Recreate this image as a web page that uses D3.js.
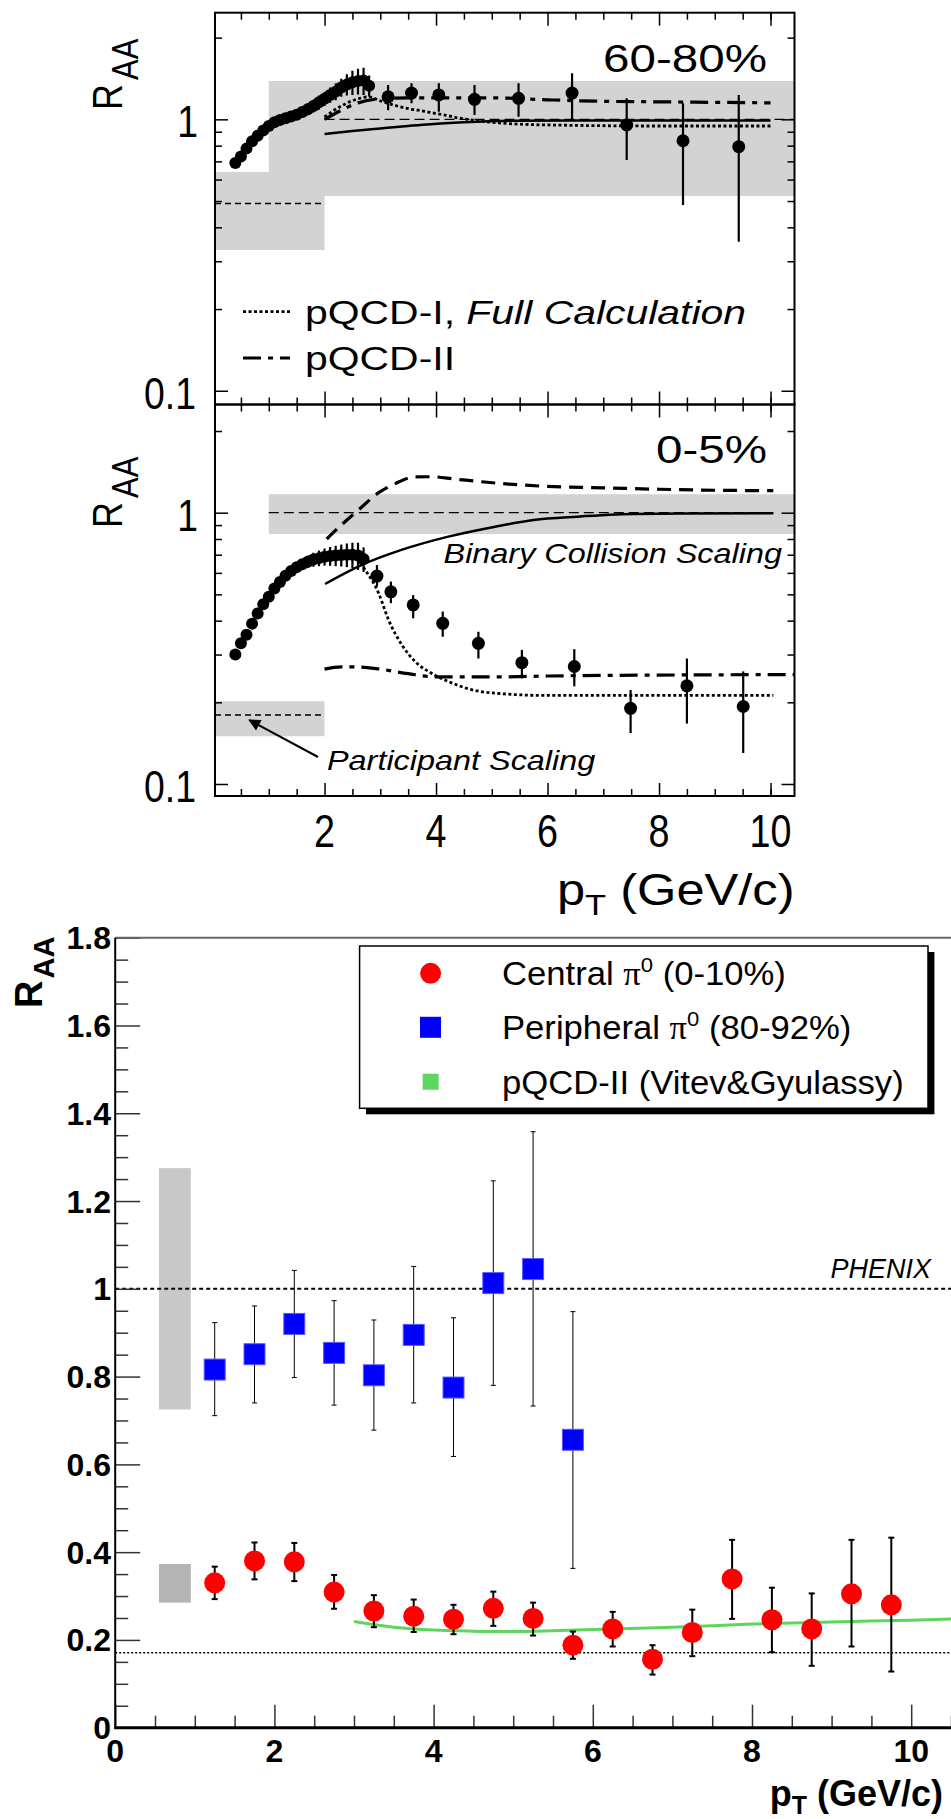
<!DOCTYPE html>
<html>
<head>
<meta charset="utf-8">
<script src="https://cdn.jsdelivr.net/npm/d3@7"></script>
<style>
    html, body { margin: 0; padding: 0; background: #fff; }
    svg { display: block; font-family: "Liberation Sans", Arial, sans-serif; }
</style>
</head>
<body>
<svg id="chart" width="951" height="1819"></svg>
<script>
"use strict";

// ---------- upper panel: 60-80% ----------
var p60DenseX = [0.4, 0.5, 0.6, 0.7, 0.8, 0.9, 1.0, 1.1, 1.2, 1.3, 1.4, 1.5, 1.6, 1.7, 1.8, 1.9, 2.0, 2.1, 2.2, 2.3, 2.4, 2.5, 2.6, 2.7, 2.8];
var p60DenseY = [0.69, 0.73, 0.78, 0.83, 0.87, 0.91, 0.945, 0.975, 0.995, 1.01, 1.025, 1.04, 1.065, 1.09, 1.12, 1.155, 1.19, 1.23, 1.265, 1.31, 1.345, 1.37, 1.385, 1.39, 1.33];
var p60DenseErr = [0.015, 0.015, 0.015, 0.015, 0.02, 0.02, 0.02, 0.025, 0.03, 0.035, 0.04, 0.045, 0.05, 0.055, 0.06, 0.07, 0.07, 0.08, 0.09, 0.1, 0.12, 0.14, 0.15, 0.16, 0.12];
var p60X = [3.14, 3.56, 4.05, 4.69, 5.48, 6.44, 7.42, 8.43, 9.43];
var p60Y = [1.21, 1.25, 1.23, 1.185, 1.195, 1.25, 0.953, 0.834, 0.793];
var p60Lo = [1.08, 1.145, 1.066, 1.037, 1.022, 0.994, 0.708, 0.483, 0.354];
var p60Hi = [1.338, 1.357, 1.357, 1.338, 1.357, 1.477, 1.195, 1.145, 1.229];

var p60SolidX = [2.0, 2.5, 3.0, 3.5, 3.9, 4.5, 5.4, 6.5, 8.0, 10.0];
var p60SolidY = [0.883, 0.905, 0.925, 0.945, 0.96, 0.975, 0.988, 0.99, 0.99, 0.99];
var p60DottedX = [2.0, 2.3, 2.6, 2.8, 3.0, 3.35, 3.56, 3.77, 3.98, 4.16, 4.34, 4.52, 5.0, 5.5, 6.5, 8.0, 10.0];
var p60DottedY = [1.02, 1.12, 1.19, 1.21, 1.17, 1.113, 1.089, 1.073, 1.052, 1.037, 1.017, 1.003, 0.975, 0.96, 0.95, 0.945, 0.945];
var p60DashDotX = [2.0, 2.3, 2.6, 3.0, 3.5, 4.0, 5.0, 6.0, 7.0, 8.0, 9.0, 10.0];
var p60DashDotY = [1.0, 1.08, 1.15, 1.19, 1.2, 1.2, 1.2, 1.18, 1.165, 1.16, 1.155, 1.15];

// ---------- middle panel: 0-5% ----------
var p05DenseX = [0.4, 0.5, 0.6, 0.7, 0.8, 0.9, 1.0, 1.1, 1.2, 1.3, 1.4, 1.5, 1.6, 1.7, 1.8, 1.9, 2.0, 2.1, 2.2, 2.3, 2.4, 2.5, 2.6, 2.7];
var p05DenseY = [0.30, 0.33, 0.355, 0.39, 0.425, 0.46, 0.49, 0.525, 0.555, 0.585, 0.61, 0.63, 0.645, 0.66, 0.672, 0.68, 0.688, 0.692, 0.695, 0.698, 0.70, 0.70, 0.695, 0.675];
var p05DenseErr = [0.01, 0.01, 0.01, 0.012, 0.012, 0.015, 0.015, 0.018, 0.02, 0.02, 0.022, 0.025, 0.03, 0.035, 0.04, 0.045, 0.05, 0.055, 0.06, 0.065, 0.07, 0.075, 0.08, 0.07];
var p05X = [2.94, 3.19, 3.59, 4.12, 4.76, 5.54, 6.48, 7.49, 8.5, 9.51];
var p05Y = [0.584, 0.511, 0.457, 0.391, 0.33, 0.28, 0.271, 0.19, 0.23, 0.193];
var p05Lo = [0.534, 0.464, 0.408, 0.349, 0.29, 0.245, 0.229, 0.154, 0.167, 0.13];
var p05Hi = [0.641, 0.557, 0.497, 0.432, 0.364, 0.312, 0.314, 0.222, 0.29, 0.26];

var p05SolidX = [2.01, 2.67, 3.38, 4.22, 5.06, 5.75, 6.53, 7.54, 8.5, 10.05];
var p05SolidY = [0.546, 0.642, 0.729, 0.816, 0.888, 0.94, 0.967, 0.989, 0.993, 0.995];
var p05DashedX = [2.04, 2.3, 2.6, 2.97, 3.27, 3.63, 3.92, 4.34, 4.82, 5.3, 6.0, 7.0, 8.0, 9.0, 10.05];
var p05DashedY = [0.80, 0.9, 1.02, 1.185, 1.28, 1.355, 1.357, 1.33, 1.3, 1.275, 1.25, 1.235, 1.22, 1.21, 1.205];
var p05DottedX = [2.0, 2.4, 2.6, 2.73, 2.97, 3.15, 3.39, 3.63, 3.92, 4.3, 4.66, 5.2, 5.97, 7.0, 8.0, 10.05];
var p05DottedY = [0.69, 0.70, 0.67, 0.615, 0.505, 0.402, 0.325, 0.282, 0.256, 0.235, 0.222, 0.215, 0.212, 0.212, 0.212, 0.212];
var p05DashDotX = [2.0, 2.3, 2.6, 3.0, 3.5, 4.0, 5.0, 6.0, 8.0, 10.43];
var p05DashDotY = [0.265, 0.27, 0.27, 0.265, 0.255, 0.248, 0.248, 0.25, 0.252, 0.253];

var topTicksMajorY = [0.1, 1];
var topTicksMinorY = [0.2, 0.3, 0.4, 0.5, 0.6, 0.7, 0.8, 0.9, 2];
var topTicksMajorX = [2, 4, 6, 8, 10];
var topTicksMinorX = [0.5, 1, 1.5, 2.5, 3, 3.5, 4.5, 5, 5.5, 6.5, 7, 7.5, 8.5, 9, 9.5, 10];

// ---------- lower panel: PHENIX ----------
var centralX = [1.25, 1.75, 2.25, 2.75, 3.25, 3.75, 4.25, 4.75, 5.25, 5.75, 6.25, 6.75, 7.25, 7.75, 8.25, 8.75, 9.25, 9.75];
var centralY = [0.330, 0.380, 0.378, 0.309, 0.266, 0.254, 0.247, 0.272, 0.249, 0.188, 0.225, 0.156, 0.217, 0.339, 0.246, 0.225, 0.305, 0.280];
var centralLo = [0.293, 0.338, 0.334, 0.271, 0.229, 0.218, 0.213, 0.232, 0.210, 0.157, 0.185, 0.121, 0.163, 0.248, 0.172, 0.141, 0.185, 0.128];
var centralHi = [0.367, 0.422, 0.421, 0.348, 0.302, 0.292, 0.280, 0.310, 0.285, 0.219, 0.264, 0.188, 0.269, 0.428, 0.319, 0.306, 0.428, 0.433];
var periphX = [1.25, 1.75, 2.25, 2.75, 3.25, 3.75, 4.25, 4.75, 5.25, 5.75];
var periphY = [0.816, 0.851, 0.920, 0.854, 0.803, 0.895, 0.775, 1.013, 1.045, 0.656];
var periphLo = [0.711, 0.740, 0.798, 0.735, 0.678, 0.740, 0.618, 0.780, 0.733, 0.363];
var periphHi = [0.923, 0.961, 1.042, 0.973, 0.929, 1.051, 0.934, 1.246, 1.358, 0.948];
var pqcdX = [3.0, 3.5, 4.0, 4.5, 5.0, 5.5, 6.0, 7.0, 8.0, 9.0, 10.0, 10.6];
var pqcdY = [0.242, 0.229, 0.2225, 0.220, 0.219, 0.221, 0.224, 0.229, 0.236, 0.241, 0.245, 0.248];
var sysX = [0.55, 0.95];
var periphSys = [0.725, 1.275];
var centralSys = [0.285, 0.373];
var participantLevel = 0.171;
var bottomTicksY = [0, 0.2, 0.4, 0.6, 0.8, 1, 1.2, 1.4, 1.6, 1.8];
var bottomTicksX = [0, 2, 4, 6, 8, 10];
var legendLabels = [
    ["Central ", " (0-10%)"],
    ["Peripheral ", " (80-92%)"],
    ["pQCD-II (Vitev&Gyulassy)"]
];

var svg = d3.select("#chart");

function zip(xs, ys) {
    return xs.map(function (v, i) { return [v, ys[i]]; });
}

function addText(parent, x, y, str, size, sx, anchor, style) {
    return parent.append("text")
        .attr("transform", "translate(" + x + "," + y + ") scale(" + sx + ",1)")
        .attr("text-anchor", anchor || "start")
        .attr("font-size", size)
        .attr("font-style", style || "normal")
        .text(str);
}

// shared x scale of the two upper panels
var xTop = d3.scaleLinear().domain([0.035, 10.43]).range([215, 794.5]);

function drawTopPanel(p) {
    var y = p.y;
    var g = svg.append("g");
    var top = y.range()[1], bottom = y.range()[0];
    var left = xTop.range()[0], right = xTop.range()[1];

    g.append("clipPath").attr("id", p.id)
        .append("rect")
        .attr("x", left).attr("y", top)
        .attr("width", right - left).attr("height", bottom - top);

    var inner = g.append("g").attr("clip-path", "url(#" + p.id + ")");

    // systematic bands
    inner.selectAll("rect.band")
        .data(p.bands)
        .enter()
        .append("rect")
        .attr("x", function (d) { return xTop(d[0]); })
        .attr("width", function (d) { return xTop(d[1]) - xTop(d[0]); })
        .attr("y", function (d) { return y(d[3]); })
        .attr("height", function (d) { return y(d[2]) - y(d[3]); })
        .attr("fill", "#d3d3d3");

    // scaling reference lines
    inner.selectAll("line.ref")
        .data(p.refs)
        .enter()
        .append("line")
        .attr("x1", function (d) { return xTop(d[0]); })
        .attr("x2", function (d) { return xTop(d[1]); })
        .attr("y1", function (d) { return y(d[2]); })
        .attr("y2", function (d) { return y(d[2]); })
        .attr("stroke", "#000")
        .attr("stroke-width", function (d) { return d[3]; })
        .attr("stroke-dasharray", function (d) { return d[4]; });

    var line = d3.line()
        .x(function (d) { return xTop(d[0]); })
        .y(function (d) { return y(d[1]); })
        .curve(d3.curveMonotoneX);

    p.curves.forEach(function (c) {
        inner.append("path")
            .attr("d", line(c.pts))
            .attr("fill", "none")
            .attr("stroke", "#000")
            .attr("stroke-width", c.w)
            .attr("stroke-dasharray", c.dash);
    });

    // data
    var dense = p.denseX.map(function (v, i) {
        return { x: v, y: p.denseY[i], lo: p.denseY[i] - p.denseErr[i], hi: p.denseY[i] + p.denseErr[i], r: 6 };
    });
    var big = p.x.map(function (v, i) {
        return { x: v, y: p.yv[i], lo: p.lo[i], hi: p.hi[i], r: 6.5 };
    });
    var pts = dense.concat(big);

    inner.selectAll("line.err")
        .data(pts)
        .enter()
        .append("line")
        .attr("x1", function (d) { return xTop(d.x); })
        .attr("x2", function (d) { return xTop(d.x); })
        .attr("y1", function (d) { return y(d.lo); })
        .attr("y2", function (d) { return y(d.hi); })
        .attr("stroke", "#000")
        .attr("stroke-width", 2.2);

    inner.selectAll("circle.pt")
        .data(pts)
        .enter()
        .append("circle")
        .attr("cx", function (d) { return xTop(d.x); })
        .attr("cy", function (d) { return y(d.y); })
        .attr("r", function (d) { return d.r; })
        .attr("fill", "#000");

    // ticks
    function strip(sel) { sel.select(".domain").remove(); sel.selectAll("line").attr("stroke-width", 1.5); }
    [[topTicksMajorY, 13], [topTicksMinorY, 7]].forEach(function (t) {
        g.append("g").attr("transform", "translate(" + left + ",0)")
            .call(d3.axisRight(y).tickValues(t[0]).tickSize(t[1]).tickFormat(""))
            .call(strip);
        g.append("g").attr("transform", "translate(" + right + ",0)")
            .call(d3.axisLeft(y).tickValues(t[0]).tickSize(t[1]).tickFormat(""))
            .call(strip);
    });
    [[topTicksMajorX, 13], [topTicksMinorX, 7]].forEach(function (t) {
        g.append("g").attr("transform", "translate(0," + bottom + ")")
            .call(d3.axisTop(xTop).tickValues(t[0]).tickSize(t[1]).tickFormat(""))
            .call(strip);
        g.append("g").attr("transform", "translate(0," + top + ")")
            .call(d3.axisBottom(xTop).tickValues(t[0]).tickSize(t[1]).tickFormat(""))
            .call(strip);
    });

    g.append("rect")
        .attr("x", left).attr("y", top)
        .attr("width", right - left).attr("height", bottom - top)
        .attr("fill", "none")
        .attr("stroke", "#000")
        .attr("stroke-width", 2);

    // y labels
    addText(g, 198, y(1) + 18, "1", 44, 0.85, "end");
    addText(g, 196, y(0.1) + 18, "0.1", 44, 0.85, "end");

    var ylab = g.append("text")
        .attr("transform", "translate(122," + p.titleY + ") scale(1.2,1) rotate(-90)")
        .attr("font-size", 36);
    ylab.append("tspan").text("R");
    ylab.append("tspan").attr("dy", 13).attr("dx", 4).attr("font-size", 31).text("AA");

    addText(g, 767, p.tagY, p.tag, 39, 1.22, "end");
    return g;
}

var yTop = d3.scaleLog().domain([0.089, 2.471]).range([404.5, 12.7]);
var yMid = d3.scaleLog().domain([0.0903, 2.505]).range([796, 404.5]);

var dottedDash = "3,2.5";
var dashDotDash = "18,7,5,7";

var g1 = drawTopPanel({
    id: "clip60", y: yTop, tag: "60-80%", tagY: 72, titleY: 110,
    bands: [[1, 10.43, 0.522, 1.385], [0.035, 2, 0.33, 0.64]],
    refs: [[2, 10.43, 1, 1.2, "10,5"], [0.035, 2, 0.49, 1.5, "6,4"]],
    curves: [
        { pts: zip(p60SolidX, p60SolidY), w: 2.5, dash: null },
        { pts: zip(p60DottedX, p60DottedY), w: 2.8, dash: dottedDash },
        { pts: zip(p60DashDotX, p60DashDotY), w: 3.2, dash: dashDotDash }
    ],
    denseX: p60DenseX, denseY: p60DenseY, denseErr: p60DenseErr,
    x: p60X, yv: p60Y, lo: p60Lo, hi: p60Hi
});

// legend of the upper panel
[[311.7, dottedDash, 2.8], [358, dashDotDash, 3.2]].forEach(function (d) {
    g1.append("line")
        .attr("x1", 243).attr("x2", 290)
        .attr("y1", d[0]).attr("y2", d[0])
        .attr("stroke", "#000")
        .attr("stroke-width", d[2])
        .attr("stroke-dasharray", d[1]);
});
var leg1 = addText(g1, 305, 324, "", 33, 1.24, "start");
leg1.append("tspan").text("pQCD-I, ");
leg1.append("tspan").attr("font-style", "italic").text("Full Calculation");
addText(g1, 305, 370, "pQCD-II", 33, 1.24, "start");

var g2 = drawTopPanel({
    id: "clip05", y: yMid, tag: "0-5%", tagY: 463, titleY: 528,
    bands: [[1, 10.43, 0.835, 1.17], [0.035, 2, 0.150, 0.202]],
    refs: [[1, 10.05, 1, 1.2, "10,5"], [0.035, 2, 0.1795, 1.5, "6,4"]],
    curves: [
        { pts: zip(p05SolidX, p05SolidY), w: 2.5, dash: null },
        { pts: zip(p05DashedX, p05DashedY), w: 3.2, dash: "14,8" },
        { pts: zip(p05DottedX, p05DottedY), w: 2.8, dash: dottedDash },
        { pts: zip(p05DashDotX, p05DashDotY), w: 3.2, dash: dashDotDash }
    ],
    denseX: p05DenseX, denseY: p05DenseY, denseErr: p05DenseErr,
    x: p05X, yv: p05Y, lo: p05Lo, hi: p05Hi
});

addText(g2, 782, 563, "Binary Collision Scaling", 27, 1.2, "end", "italic");
addText(g2, 327, 770, "Participant Scaling", 27, 1.2, "start", "italic");

svg.append("defs").append("marker")
    .attr("id", "arrow")
    .attr("viewBox", "0 0 10 10")
    .attr("refX", 9).attr("refY", 5)
    .attr("markerWidth", 7).attr("markerHeight", 6)
    .attr("orient", "auto")
    .append("path")
    .attr("d", "M0,0 L10,5 L0,10 z")
    .attr("fill", "#000");

g2.append("line")
    .attr("x1", 318).attr("y1", 757)
    .attr("x2", xTop(0.65)).attr("y2", yMid(0.172))
    .attr("stroke", "#000")
    .attr("stroke-width", 2)
    .attr("marker-end", "url(#arrow)");

topTicksMajorX.forEach(function (v) {
    addText(g2, xTop(v), 847, String(v), 46, 0.82, "middle");
});
var xt = addText(g2, 794.5, 905, "", 44, 1.15, "end");
xt.append("tspan").text("p");
xt.append("tspan").attr("font-size", 30).attr("dy", 10).text("T");
xt.append("tspan").attr("dy", -10).text(" (GeV/c)");

// ---------- lower panel ----------
var x3 = d3.scaleLinear().domain([0, 10.5]).range([115.2, 951]);
var y3 = d3.scaleLinear().domain([0, 1.8]).range([1727.7, 937.7]);
var g3 = svg.append("g");

g3.selectAll("rect.sys")
    .data([[periphSys, "#c8c8c8"], [centralSys, "#b4b4b4"]])
    .enter()
    .append("rect")
    .attr("x", x3(sysX[0]))
    .attr("width", x3(sysX[1]) - x3(sysX[0]))
    .attr("y", function (d) { return y3(d[0][1]); })
    .attr("height", function (d) { return y3(d[0][0]) - y3(d[0][1]); })
    .attr("fill", function (d) { return d[1]; });

g3.append("line")
    .attr("x1", x3(0)).attr("x2", 951)
    .attr("y1", y3(1)).attr("y2", y3(1))
    .attr("stroke", "#000").attr("stroke-width", 2)
    .attr("stroke-dasharray", "4,3");
g3.append("line")
    .attr("x1", x3(0)).attr("x2", 951)
    .attr("y1", y3(participantLevel)).attr("y2", y3(participantLevel))
    .attr("stroke", "#000").attr("stroke-width", 1.5)
    .attr("stroke-dasharray", "2,2");

g3.append("path")
    .attr("d", d3.line()
        .x(function (d) { return x3(d[0]); })
        .y(function (d) { return y3(d[1]); })
        .curve(d3.curveMonotoneX)(zip(pqcdX, pqcdY)))
    .attr("fill", "none")
    .attr("stroke", "#5cd65c")
    .attr("stroke-width", 3);

function errorBars(xs, ys, lo, hi, w, cap) {
    var d = xs.map(function (v, i) { return { x: v, lo: lo[i], hi: hi[i] }; });
    var eg = g3.append("g").attr("stroke", "#000").attr("stroke-width", w);
    eg.selectAll("line.v").data(d).enter().append("line")
        .attr("x1", function (e) { return x3(e.x); })
        .attr("x2", function (e) { return x3(e.x); })
        .attr("y1", function (e) { return y3(e.lo); })
        .attr("y2", function (e) { return y3(e.hi); });
    ["lo", "hi"].forEach(function (k) {
        eg.selectAll("line.c" + k).data(d).enter().append("line")
            .attr("x1", function (e) { return x3(e.x) - cap; })
            .attr("x2", function (e) { return x3(e.x) + cap; })
            .attr("y1", function (e) { return y3(e[k]); })
            .attr("y2", function (e) { return y3(e[k]); });
    });
}

errorBars(periphX, periphY, periphLo, periphHi, 1, 2.5);
errorBars(centralX, centralY, centralLo, centralHi, 2, 3);

g3.selectAll("rect.peri")
    .data(zip(periphX, periphY))
    .enter()
    .append("rect")
    .attr("x", function (d) { return x3(d[0]) - 10.5; })
    .attr("y", function (d) { return y3(d[1]) - 10.5; })
    .attr("width", 21).attr("height", 21)
    .attr("fill", "#0000ff")
    .attr("stroke", "#5a5aff")
    .attr("stroke-width", 1);

g3.selectAll("circle.central")
    .data(zip(centralX, centralY))
    .enter()
    .append("circle")
    .attr("cx", function (d) { return x3(d[0]); })
    .attr("cy", function (d) { return y3(d[1]); })
    .attr("r", 10.5)
    .attr("fill", "#ff0000");

// axes
function stripBottom(sel) {
    sel.select(".domain").remove();
    sel.selectAll("line").attr("stroke", "#333").attr("stroke-width", 1.5);
}
g3.append("g").attr("transform", "translate(" + x3(0) + ",0)")
    .call(d3.axisRight(y3).tickValues(d3.range(0, 1.8, 0.05).filter(function (v) {
        return Math.abs(v * 5 - Math.round(v * 5)) > 1e-6;
    })).tickSize(13).tickFormat(""))
    .call(stripBottom);
g3.append("g").attr("transform", "translate(" + x3(0) + ",0)")
    .call(d3.axisRight(y3).tickValues(bottomTicksY).tickSize(25).tickFormat(""))
    .call(stripBottom);
g3.append("g").attr("transform", "translate(0," + y3(0) + ")")
    .call(d3.axisTop(x3).tickValues(d3.range(0.5, 10.6, 1).concat(d3.range(1, 10.6, 2))).tickSize(12).tickFormat(""))
    .call(stripBottom);
g3.append("g").attr("transform", "translate(0," + y3(0) + ")")
    .call(d3.axisTop(x3).tickValues(bottomTicksX).tickSize(23).tickFormat(""))
    .call(stripBottom);

g3.append("line")
    .attr("x1", x3(0)).attr("x2", 951)
    .attr("y1", y3(1.8)).attr("y2", y3(1.8))
    .attr("stroke", "#666").attr("stroke-width", 2);
g3.append("line")
    .attr("x1", x3(0)).attr("x2", x3(0))
    .attr("y1", y3(1.8)).attr("y2", y3(0))
    .attr("stroke", "#000").attr("stroke-width", 2);
g3.append("line")
    .attr("x1", x3(0) - 1).attr("x2", 951)
    .attr("y1", y3(0)).attr("y2", y3(0))
    .attr("stroke", "#000").attr("stroke-width", 3);

g3.selectAll("text.yt")
    .data(bottomTicksY)
    .enter()
    .append("text")
    .attr("x", 111)
    .attr("y", function (d) { return y3(d) + 11.5; })
    .attr("text-anchor", "end")
    .attr("font-size", 32)
    .attr("font-weight", "bold")
    .text(function (d) { return d === 1 || d === 0 ? String(d) : d.toFixed(1); });

g3.selectAll("text.xt")
    .data(bottomTicksX)
    .enter()
    .append("text")
    .attr("x", function (d) { return x3(d); })
    .attr("y", 1762)
    .attr("text-anchor", "middle")
    .attr("font-size", 32)
    .attr("font-weight", "bold")
    .text(function (d) { return d; });

var xt3 = g3.append("text")
    .attr("x", 943).attr("y", 1806)
    .attr("text-anchor", "end")
    .attr("font-size", 36)
    .attr("font-weight", "bold");
xt3.append("tspan").text("p");
xt3.append("tspan").attr("font-size", 25).attr("dy", 8).text("T");
xt3.append("tspan").attr("dy", -8).text(" (GeV/c)");

var yt3 = g3.append("text")
    .attr("transform", "translate(42,1008) rotate(-90)")
    .attr("font-size", 38)
    .attr("font-weight", "bold");
yt3.append("tspan").text("R");
yt3.append("tspan").attr("font-size", 29).attr("dy", 12).attr("dx", 2).text("AA");

g3.append("text")
    .attr("x", 931).attr("y", 1278)
    .attr("text-anchor", "end")
    .attr("font-size", 27)
    .attr("font-style", "italic")
    .text("PHENIX");

// legend
var lg = g3.append("g");
lg.append("rect")
    .attr("x", 366).attr("y", 952)
    .attr("width", 568.4).attr("height", 162.3)
    .attr("fill", "#000");
lg.append("rect")
    .attr("x", 359.6).attr("y", 946)
    .attr("width", 568.4).attr("height", 162.3)
    .attr("fill", "#fff")
    .attr("stroke", "#000")
    .attr("stroke-width", 1.5);

var rows = [973.3, 1027.3, 1081.7];
lg.append("circle").attr("cx", 430.6).attr("cy", rows[0]).attr("r", 10.5).attr("fill", "#ff0000");
lg.append("rect").attr("x", 420).attr("y", rows[1] - 10.5).attr("width", 21).attr("height", 21).attr("fill", "#0000ff");
lg.append("rect").attr("x", 422.6).attr("y", rows[2] - 8).attr("width", 16).attr("height", 16).attr("fill", "#5cd65c");

legendLabels.forEach(function (parts, i) {
    var t = addText(lg, 502, rows[i] + 12, "", 33, 1.05, "start");
    t.append("tspan").text(parts[0]);
    if (parts.length > 1) {
        t.append("tspan").attr("font-family", "Liberation Serif").text("\u03c0");
        t.append("tspan").attr("font-size", 21).attr("dy", -13).text("0");
        t.append("tspan").attr("dy", 13).text(parts[1]);
    }
});
</script>
</body>
</html>
